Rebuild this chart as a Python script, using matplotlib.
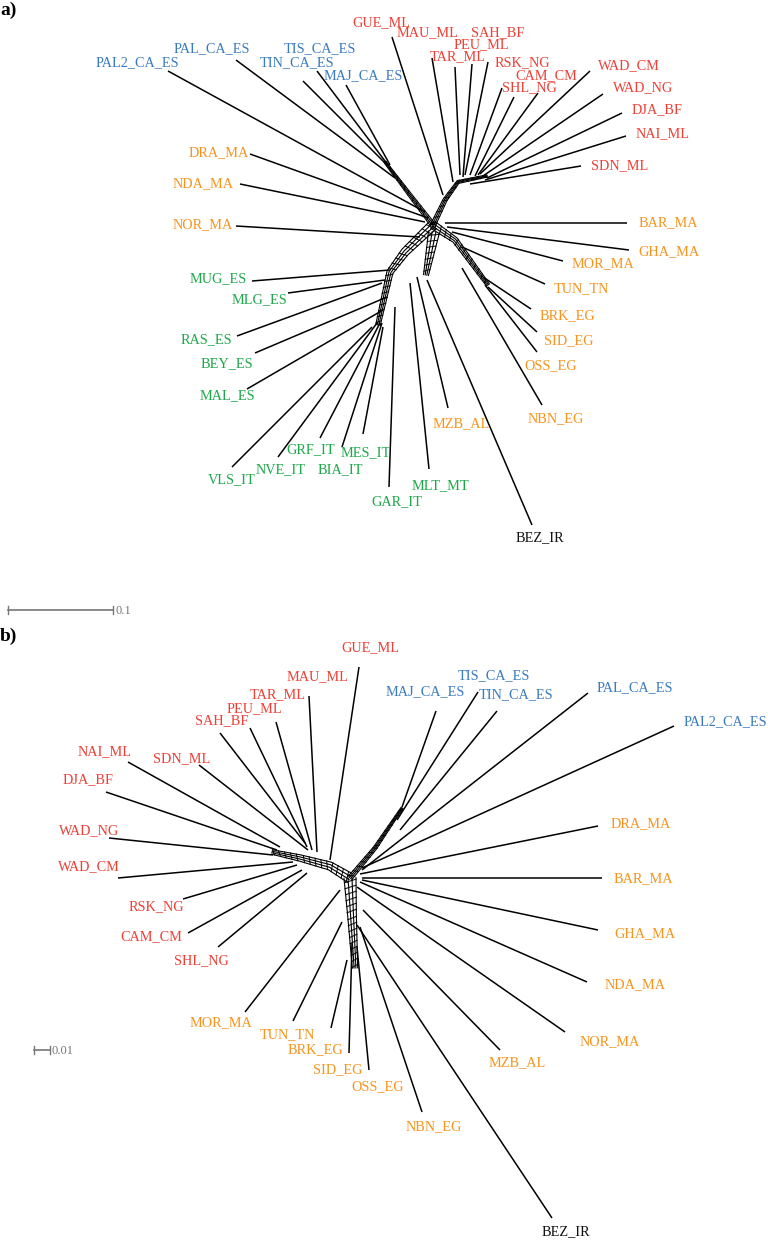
import numpy as np
import matplotlib
matplotlib.use("Agg")
import matplotlib.pyplot as plt

plt.rcParams['font.family'] = ['Liberation Serif', 'DejaVu Serif']

RED = '#ee4036'
BLUE = '#3a7bc0'
ORANGE = '#f7941d'
GREEN = '#1ea84a'
BLACK = '#111111'
colors = {'r': RED, 'b': BLUE, 'o': ORANGE, 'g': GREEN, 'k': BLACK}

# ---------------- panel a) ----------------
names_a = ['PAL2_CA_ES', 'PAL_CA_ES', 'TIS_CA_ES', 'TIN_CA_ES', 'MAJ_CA_ES',
           'GUE_ML', 'MAU_ML', 'TAR_ML', 'PEU_ML', 'SAH_BF', 'SHL_NG', 'CAM_CM', 'RSK_NG',
           'WAD_CM', 'WAD_NG', 'DJA_BF', 'NAI_ML', 'SDN_ML',
           'BAR_MA', 'GHA_MA', 'MOR_MA', 'TUN_TN', 'BRK_EG', 'SID_EG', 'OSS_EG', 'NBN_EG', 'MZB_AL', 'BEZ_IR',
           'MLT_MT', 'GAR_IT', 'MES_IT', 'BIA_IT', 'GRF_IT', 'NVE_IT', 'VLS_IT',
           'MAL_ES', 'BEY_ES', 'RAS_ES', 'MLG_ES', 'MUG_ES',
           'NOR_MA', 'NDA_MA', 'DRA_MA']
group_a = ['b'] * 5 + ['r'] * 13 + ['o'] * 9 + ['k'] + ['g'] * 12 + ['o'] * 3
lab_x_a = [137, 212, 320, 297, 363,
           381, 428, 458, 481, 498, 529, 546, 522,
           629, 643, 657, 663, 620,
           668, 669, 603, 581, 567, 569, 551, 556, 461, 540,
           440, 397, 366, 340, 311, 281, 232,
           227, 227, 206, 259, 218,
           203, 203, 219]
lab_y_a = [63, 49, 49, 63, 76,
           23, 33, 57, 45, 33, 88, 76, 63,
           66, 88, 110, 134, 166,
           223, 252, 264, 289, 316, 341, 366, 419, 424, 538,
           486, 502, 453, 470, 450, 470, 480,
           396, 364, 340, 300, 279,
           225, 184, 153]
tip_x_a = [168, 236, 317, 303, 346,
           392, 432, 455, 472, 488, 502, 514, 538,
           590, 603, 622, 626, 581,
           627, 629, 563, 545, 531, 537, 537, 542, 448, 532,
           429, 389, 363, 342, 320, 278, 232,
           247, 255, 237, 288, 252,
           236, 240, 250]
tip_y_a = [71, 60, 71, 81, 85,
           37, 58, 67, 64, 62, 88, 97, 93,
           71, 94, 113, 136, 166,
           223, 250, 261, 284, 309, 332, 352, 405, 408, 525,
           469, 487, 434, 447, 438, 457, 467,
           389, 353, 336, 293, 281,
           226, 184, 154]
base_x_a = [425, 395, 388, 385, 390,
            443, 453, 460, 463, 465, 470, 475, 478,
            480, 483, 487, 485, 470,
            445, 447, 452, 462, 483, 488, 485, 462, 417, 427,
            410, 395, 383, 382, 380, 377, 372,
            383, 387, 382, 385, 390,
            420, 425, 428]
base_y_a = [212, 178, 165, 163, 165,
            195, 182, 175, 177, 175, 175, 176, 175,
            174, 176, 178, 180, 184,
            223, 227, 232, 247, 277, 287, 285, 268, 277, 280,
            283, 307, 327, 323, 323, 323, 327,
            310, 297, 283, 280, 270,
            237, 222, 218]

# reticulate bands of the splits graph (core)
bands_a = [([433, 410, 385], [225, 195, 162], 5),
           ([433, 445, 458, 487], [225, 200, 182, 176], 5),
           ([433, 405, 390, 378], [225, 252, 272, 325], 10),
           ([433, 455, 488], [225, 240, 285], 8),
           ([434, 426], [232, 275], 11)]

# ---------------- panel b) ----------------
names_b = ['GUE_ML', 'MAU_ML', 'TAR_ML', 'PEU_ML', 'SAH_BF', 'SDN_ML', 'NAI_ML', 'DJA_BF',
           'WAD_NG', 'WAD_CM', 'RSK_NG', 'CAM_CM', 'SHL_NG',
           'MAJ_CA_ES', 'TIS_CA_ES', 'TIN_CA_ES', 'PAL_CA_ES', 'PAL2_CA_ES',
           'DRA_MA', 'BAR_MA', 'GHA_MA', 'NDA_MA', 'NOR_MA', 'MZB_AL', 'BEZ_IR',
           'NBN_EG', 'OSS_EG', 'SID_EG', 'BRK_EG', 'TUN_TN', 'MOR_MA']
group_b = ['r'] * 13 + ['b'] * 5 + ['o'] * 6 + ['k'] + ['o'] * 6
lab_x_b = [370, 318, 278, 254, 222, 182, 105, 88,
           89, 89, 156, 151, 201,
           425, 494, 516, 635, 725,
           641, 643, 645, 635, 610, 517, 566,
           434, 378, 338, 315, 287, 221]
lab_y_b = [648, 677, 695, 709, 721, 759, 752, 780,
           831, 867, 907, 937, 961,
           692, 676, 695, 688, 722,
           824, 879, 934, 985, 1042, 1063, 1232,
           1127, 1087, 1070, 1050, 1035, 1023]
tip_x_b = [359, 309, 276, 250, 220, 199, 128, 106,
           109, 118, 183, 188, 218,
           436, 478, 497, 588, 674,
           598, 602, 598, 587, 565, 500, 552,
           422, 369, 349, 331, 293, 245]
tip_y_b = [667, 696, 722, 728, 733, 765, 762, 792,
           838, 878, 899, 933, 947,
           711, 692, 711, 693, 726,
           826, 878, 930, 982, 1032, 1050, 1218,
           1112, 1070, 1053, 1028, 1021, 1012]
base_x_b = [330, 317, 312, 307, 305, 308, 280, 277,
            273, 293, 297, 302, 307,
            402, 397, 400, 362, 362,
            360, 362, 362, 360, 357, 363, 357,
            360, 357, 352, 347, 342, 340]
base_y_b = [860, 852, 850, 847, 843, 850, 847, 850,
            855, 862, 865, 870, 873,
            807, 820, 830, 870, 868,
            874, 878, 880, 882, 887, 910, 925,
            927, 947, 943, 960, 922, 890]

bands_b = [([350, 330, 300, 272], [878, 866, 858, 852], 10),
           ([350, 375, 402], [878, 848, 808], 5),
           ([350, 352, 355], [878, 915, 968], 12)]


def draw_band(ax, xs, ys, width, nlines=4, step=6.0):
    p = np.column_stack([xs, ys]).astype(float)
    d = np.diff(p, axis=0)
    seg_n = np.column_stack([-d[:, 1], d[:, 0]]) / np.linalg.norm(d, axis=1)[:, None]
    vn = np.vstack([seg_n[:1], (seg_n[:-1] + seg_n[1:]) / 2, seg_n[-1:]])
    vn /= np.linalg.norm(vn, axis=1)[:, None]
    # the band narrows toward its far end
    taper = np.linspace(1.0, 0.45, len(p))[:, None]
    for off in np.linspace(-width / 2, width / 2, nlines):
        q = p + vn * off * taper
        ax.plot(q[:, 0], q[:, 1], color='black', lw=0.8)
    # oblique rungs give the box-like look of the splits graph
    tot = np.concatenate([[0], np.cumsum(np.linalg.norm(d, axis=1))])
    for i in range(len(d)):
        L = np.linalg.norm(d[i])
        for t in np.arange(step / 2, L, step):
            c = p[i] + d[i] * t / L
            f = 1.0 - 0.55 * (tot[i] + t) / tot[-1]
            w = width / 2 * f
            u = d[i] / L
            a = c - seg_n[i] * w - u * 1.5
            b = c + seg_n[i] * w + u * 1.5
            ax.plot([a[0], b[0]], [a[1], b[1]], color='black', lw=0.7)


def draw_panel(ax, names, group, lx, ly, tx, ty, bx, by, bands):
    for xs, ys, w in bands:
        draw_band(ax, xs, ys, w)
    for i, nm in enumerate(names):
        ax.plot([tx[i], bx[i]], [ty[i], by[i]], color='black', lw=1.1,
                solid_capstyle='butt')
        ax.text(lx[i], ly[i], nm, color=colors[group[i]], fontsize=10.3,
                ha='center', va='center')


fig = plt.figure(figsize=(7.68, 12.4), dpi=100)
ax = fig.add_axes([0, 0, 1, 1])
ax.set_xlim(0, 768)
ax.set_ylim(1240, 0)
ax.axis('off')

draw_panel(ax, names_a, group_a, lab_x_a, lab_y_a, tip_x_a, tip_y_a,
           base_x_a, base_y_a, bands_a)
draw_panel(ax, names_b, group_b, lab_x_b, lab_y_b, tip_x_b, tip_y_b,
           base_x_b, base_y_b, bands_b)

ax.text(0, 10, 'a)', fontsize=14, fontweight='bold', ha='left', va='center')
ax.text(0, 636, 'b)', fontsize=14, fontweight='bold', ha='left', va='center')

# scale bars
scale_lab = ['0.1', '0.01']
scale_x0 = [8, 34]
scale_x1 = [113, 50]
scale_y = [610, 1050]
for k in range(2):
    ax.plot([scale_x0[k], scale_x1[k]], [scale_y[k], scale_y[k]], color='#777777', lw=1.2)
    for xx in (scale_x0[k], scale_x1[k]):
        ax.plot([xx, xx], [scale_y[k] - 4, scale_y[k] + 4], color='#777777', lw=1.0)
    ax.text(scale_x1[k] + 2, scale_y[k] + 1, scale_lab[k], color='#777777',
            fontsize=9, ha='left', va='center')

fig.savefig('out.png', dpi=100)
